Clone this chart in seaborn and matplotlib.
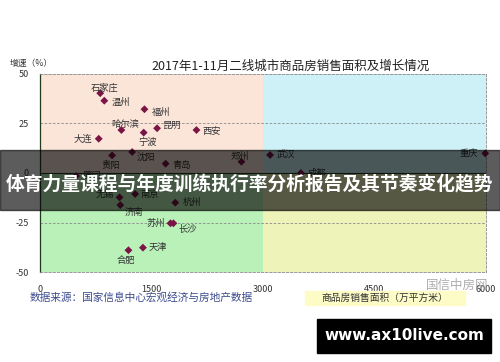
import numpy as np
import pandas as pd
import matplotlib
matplotlib.use('Agg')
import matplotlib.pyplot as plt
import matplotlib.patches as mpatches
import seaborn as sns

# 数据：二线城市商品房销售面积（万平方米）与增速（%）
cities = ['石家庄', '温州', '福州', '哈尔滨', '宁波', '昆明', '西安', '大连',
          '贵阳', '沈阳', '青岛', '郑州', '武汉', '重庆', '成都', '厦门',
          '无锡', '南京', '杭州', '济南', '苏州', '长沙', '天津', '合肥']
area = [810, 865, 1405, 1095, 1395, 1575, 2105, 790,
        970, 1240, 1690, 2710, 3095, 5990, 3510, 485,
        1070, 1280, 1820, 1080, 1755, 1795, 1385, 1190]
growth = [40.3, 36.5, 32.2, 21.7, 20.4, 22.6, 21.7, 17.3,
          8.9, 10.6, 4.7, 5.7, 9.1, 9.9, 0.0, -1.5,
          -12.3, -10.6, -15.0, -16.2, -25.4, -25.4, -37.7, -39.0]

x_ticks = [0, 1500, 3000, 4500, 6000]
y_ticks = [-50, -25, 0, 25, 50]

# 标签偏移（points）
offsets = [(3, 4), (5, -1), (5, -2), (3, 4), (3, -7), (4, 2), (4, -1), (-5, 0),
           (-1, -7), (3, -4), (5, -1), (-1, 4), (5, 0), (-5, 0), (5, 0), (5, 0),
           (-4, 2), (4, 0), (5, 0), (3, -5), (-4, 0), (4, -4), (4, 0), (-2, -7)]
aligns = ['center', 'left', 'left', 'center', 'center', 'left', 'left', 'right',
          'center', 'left', 'left', 'center', 'left', 'right', 'left', 'left',
          'right', 'left', 'left', 'left', 'right', 'left', 'left', 'center']

df = pd.DataFrame({'city': cities, 'area': area, 'growth': growth})

sns.set_style('white')
plt.rcParams['font.family'] = ['Noto Sans CJK SC', 'DejaVu Sans']
plt.rcParams['axes.unicode_minus'] = False

fig = plt.figure(figsize=(5, 3.62), dpi=100)
ax = fig.add_axes([0.08, 0.2486, 0.892, 0.547])

# 四象限背景
ax.fill_between([0, 3000], 0, 50, color='#fbe4d8', lw=0, zorder=0)
ax.fill_between([3000, 6000], 0, 50, color='#cdf1f6', lw=0, zorder=0)
ax.fill_between([0, 3000], -50, 0, color='#b9f1b9', lw=0, zorder=0)
ax.fill_between([3000, 6000], -50, 0, color='#eef3b9', lw=0, zorder=0)

for yv in [25, -25]:
    ax.axhline(yv, color='#8a8a8a', lw=0.6, ls=(0, (3, 2)), zorder=1)
ax.axhline(0, color='#1f3a1f', lw=0.8, zorder=1)

sns.scatterplot(data=df, x='area', y='growth', ax=ax, marker='D', s=16,
                color='#7a1446', edgecolor='none', zorder=3, clip_on=False)

for c, xv, yv, off, ha in zip(cities, area, growth, offsets, aligns):
    ax.annotate(c, (xv, yv), xytext=off, textcoords='offset points',
                ha=ha, va='center', fontsize=6.7, color='#333333', zorder=4)

ax.set_xlim(0, 6000)
ax.set_ylim(-50, 50)
ax.set_xticks(x_ticks)
ax.set_yticks(y_ticks)
ax.tick_params(axis='both', length=0, labelsize=6.5, colors='#333333')
ax.tick_params(axis='x', pad=9)
ax.tick_params(axis='y', pad=8)
ax.set_xlabel('')
ax.set_ylabel('')

for side in ['top', 'right', 'bottom']:
    ax.spines[side].set_color('#8a8a8a')
    ax.spines[side].set_linewidth(0.6)
    ax.spines[side].set_linestyle((0, (3, 2)))
ax.spines['left'].set_color('#1f3a1f')
ax.spines['left'].set_linewidth(0.9)

fig.text(0.582, 0.817, '2017年1-11月二线城市商品房销售面积及增长情况',
         ha='center', va='center', fontsize=9, color='#222222')
fig.text(0.02, 0.826, '增速（%）', ha='left', va='center', fontsize=6.3,
         color='#333333')

fig.text(0.06, 0.177, '数据来源：国家信息中心宏观经济与房地产数据',
         ha='left', va='center', fontsize=7.7, color='#3a4a8c', style='italic')
fig.patches.append(mpatches.Rectangle((0.61, 0.157), 0.32, 0.04,
                                      transform=fig.transFigure,
                                      color='#fdfbc6', zorder=1))
fig.text(0.77, 0.177, '商品房销售面积（万平方米）', ha='center', va='center',
         fontsize=7, color='#333333', zorder=2)
fig.text(0.915, 0.212, '国信中房网', ha='center', va='center', fontsize=9,
         color='#9a9a9a', alpha=0.8, zorder=5)

# 半透明标题横幅
fig.patches.append(mpatches.Rectangle((0, 0.42), 1, 0.166,
                                      transform=fig.transFigure,
                                      color='black', alpha=0.64, zorder=10))
fig.text(0.5, 0.489, '体育力量课程与年度训练执行率分析报告及其节奏变化趋势',
         ha='center', va='center', fontsize=13.5, fontweight='bold',
         color='white', zorder=11)

# 网址框
fig.patches.append(mpatches.Rectangle((0.634, 0.025), 0.348, 0.094,
                                      transform=fig.transFigure,
                                      color='black', zorder=10))
fig.text(0.808, 0.072, 'www.ax10live.com', ha='center', va='center',
         fontsize=11, fontweight='bold', color='white', zorder=11,
         family=['DejaVu Sans'])

fig.savefig('out.png', dpi=100)
